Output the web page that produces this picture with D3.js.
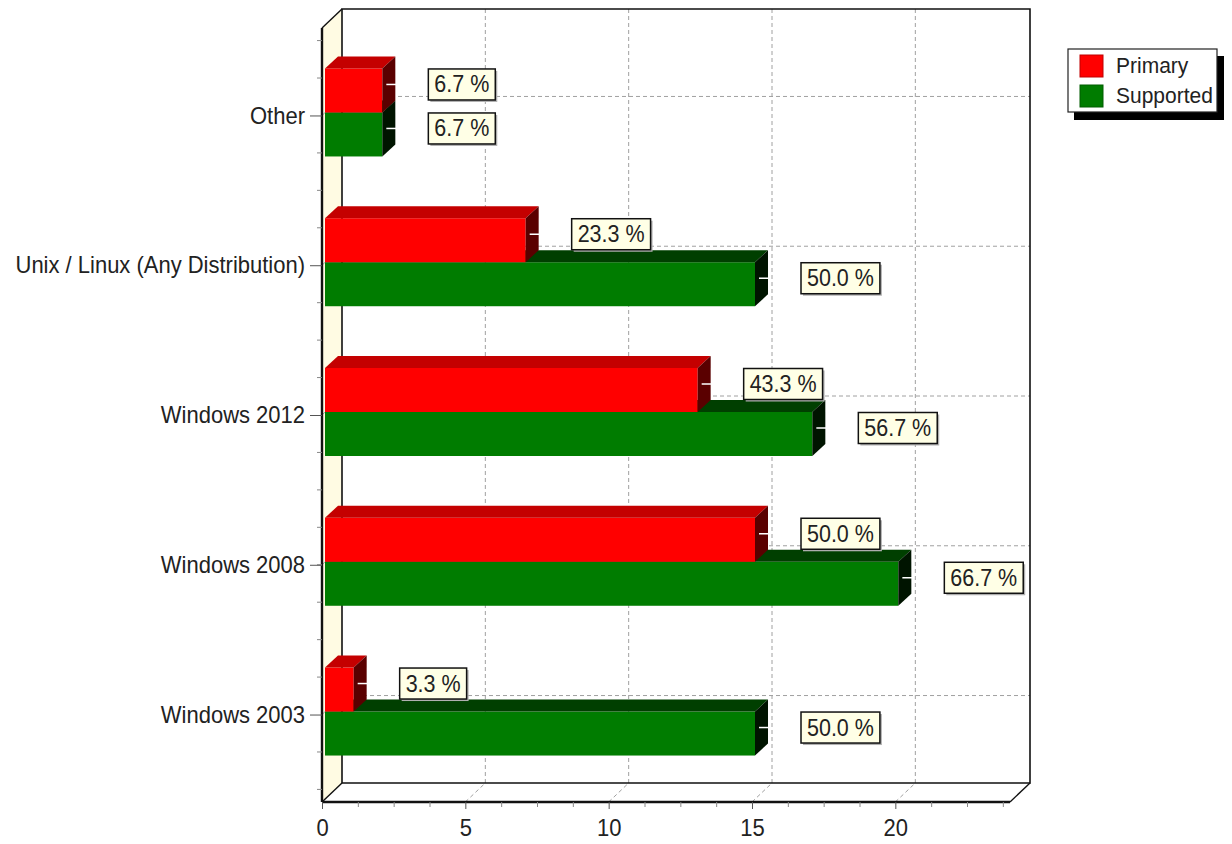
<!DOCTYPE html>
<html>
<head>
<meta charset="utf-8">
<script src="https://cdn.jsdelivr.net/npm/d3@7"></script>
<style>
  html, body { margin: 0; padding: 0; background: #fff; }
  svg { display: block; }
  text { font-family: "Liberation Sans", Arial, sans-serif; }
</style>
</head>
<body>
<svg id="chart" width="1232" height="844"></svg>
<script>
// Operating systems in use, counted per respondent (30 answers)
const categories = ["Other", "Unix / Linux (Any Distribution)", "Windows 2012", "Windows 2008", "Windows 2003"];
const seriesNames = ["Primary", "Supported"];
const primary = [2, 7, 13, 15, 1];
const supported = [2, 15, 17, 20, 15];
const respondents = 30;
const majorTicks = [0, 5, 10, 15, 20];

const svg = d3.select("#chart");
const fontSize = 22;
const textStretch = "scale(1,1.08)";

// Scales on the front plane of the 3D box
const x = d3.scaleLinear().domain([0, 24]).range([322, 1010]);
const y = d3.scalePoint().domain(categories).range([28, 802]).padding(0.584);

// Depth offsets: wall depth and bar depth
const wall = { dx: 20, dy: -19 };
const barOff = { dx: 3, dy: -3 };
const barDepth = { dx: 13, dy: -12 };
const barH = 44;

const plotTop = y.range()[0], plotBottom = y.range()[1];
const plotLeft = x(0), plotRight = x(24);

const colors = {
  Primary:   { front: "#ff0000", top: "#c40000", side: "#5a0000" },
  Supported: { front: "#007c00", top: "#003f00", side: "#001400" }
};

// Back wall
svg.append("rect")
  .attr("x", plotLeft + wall.dx).attr("y", plotTop + wall.dy)
  .attr("width", plotRight - plotLeft).attr("height", plotBottom - plotTop)
  .attr("fill", "#fff");

// Left wall (cream)
svg.append("polygon")
  .attr("points", [[plotLeft, plotTop], [plotLeft + wall.dx, plotTop + wall.dy], [plotLeft + wall.dx, plotBottom + wall.dy], [plotLeft, plotBottom]].join(" "))
  .attr("fill", "#fffbe3");

// Gridlines on the back wall, floor and left wall
const grid = svg.append("g")
  .attr("stroke", "#a0a0a0").attr("stroke-width", 1).attr("stroke-dasharray", "4 3").attr("fill", "none");
majorTicks.filter(v => v > 0).forEach(v => {
  grid.append("line")
    .attr("x1", x(v) + wall.dx).attr("x2", x(v) + wall.dx)
    .attr("y1", plotTop + wall.dy).attr("y2", plotBottom + wall.dy);
  grid.append("line")
    .attr("x1", x(v)).attr("x2", x(v) + wall.dx)
    .attr("y1", plotBottom).attr("y2", plotBottom + wall.dy);
});
categories.forEach(c => {
  grid.append("line")
    .attr("x1", plotLeft + wall.dx).attr("x2", plotRight + wall.dx)
    .attr("y1", y(c) + wall.dy).attr("y2", y(c) + wall.dy);
  grid.append("line")
    .attr("x1", plotLeft).attr("x2", plotLeft + wall.dx)
    .attr("y1", y(c)).attr("y2", y(c) + wall.dy);
});

// Box outline
const frame = svg.append("g").attr("fill", "none").attr("stroke", "#111");
frame.append("polyline")
  .attr("points", [[plotLeft + wall.dx, plotBottom + wall.dy], [plotLeft + wall.dx, plotTop + wall.dy], [plotRight + wall.dx, plotTop + wall.dy], [plotRight + wall.dx, plotBottom + wall.dy], [plotLeft + wall.dx, plotBottom + wall.dy]].join(" "))
  .attr("stroke-width", 1.6);
frame.append("line")
  .attr("x1", plotLeft).attr("y1", plotTop).attr("x2", plotLeft + wall.dx).attr("y2", plotTop + wall.dy)
  .attr("stroke-width", 1.4);
frame.append("line")
  .attr("x1", plotLeft).attr("y1", plotBottom).attr("x2", plotLeft + wall.dx).attr("y2", plotBottom + wall.dy)
  .attr("stroke-width", 1.4);
frame.append("line")
  .attr("x1", plotRight).attr("y1", plotBottom).attr("x2", plotRight + wall.dx).attr("y2", plotBottom + wall.dy)
  .attr("stroke-width", 1.4);

// Bars
const rows = categories.map((c, i) => ({ c, Primary: primary[i], Supported: supported[i] }));
const bars = svg.append("g");
const labels = [];

function drawBar(v, cy, name) {
  const col = colors[name];
  const x0 = x(0) + barOff.dx, x1 = x(v) + barOff.dx;
  const yTop = name === "Primary" ? cy + barOff.dy - barH : cy + barOff.dy;
  const yBot = yTop + barH;
  const g = bars.append("g");
  g.append("rect")
    .attr("x", x0).attr("y", yTop).attr("width", x1 - x0).attr("height", barH)
    .attr("fill", col.front);
  g.append("polygon")
    .attr("points", [[x0, yTop], [x1, yTop], [x1 + barDepth.dx, yTop + barDepth.dy], [x0 + barDepth.dx, yTop + barDepth.dy]].join(" "))
    .attr("fill", col.top);
  g.append("polygon")
    .attr("points", [[x1, yTop], [x1 + barDepth.dx, yTop + barDepth.dy], [x1 + barDepth.dx, yBot + barDepth.dy], [x1, yBot]].join(" "))
    .attr("fill", col.side);
  const ly = (yTop + yBot) / 2 + barDepth.dy / 2;
  g.append("line")
    .attr("x1", x1 + 4).attr("x2", x1 + barDepth.dx + 2)
    .attr("y1", ly).attr("y2", ly)
    .attr("stroke", "#fff").attr("stroke-width", 1.5);
  labels.push({ x: x1 + 46, y: ly, text: d3.format(".1f")(v / respondents * 100) + " %" });
}

rows.forEach(r => {
  drawBar(r.Supported, y(r.c), "Supported");
  drawBar(r.Primary, y(r.c), "Primary");
});

// Front axis lines
svg.append("line")
  .attr("x1", plotLeft).attr("x2", plotLeft).attr("y1", plotTop).attr("y2", plotBottom)
  .attr("stroke", "#111").attr("stroke-width", 2.4);
svg.append("line")
  .attr("x1", plotLeft).attr("x2", plotRight).attr("y1", plotBottom).attr("y2", plotBottom)
  .attr("stroke", "#111").attr("stroke-width", 2.4);

// Value axis ticks
const minorX = d3.range(0, 24.001, 1.25).filter(v => v % 5 !== 0);
const xMinor = svg.append("g")
  .attr("transform", `translate(0,${plotBottom})`)
  .call(d3.axisBottom(x).tickValues(minorX).tickSize(5).tickFormat(""));
xMinor.select(".domain").remove();
xMinor.selectAll("line").attr("stroke", "#888");
const xMajor = svg.append("g")
  .attr("transform", `translate(0,${plotBottom})`)
  .call(d3.axisBottom(x).tickValues(majorTicks).tickSize(7).tickPadding(9).tickFormat(d3.format("d")));
xMajor.select(".domain").remove();
xMajor.selectAll("line").attr("stroke", "#555");
xMajor.selectAll("text")
  .attr("font-size", fontSize).attr("fill", "#222").attr("transform", textStretch)
  .style("font-family", '"Liberation Sans", Arial, sans-serif');

// Category axis ticks
const step = y.step() / 4;
const minorY = d3.range(y(categories[0]) - 2 * step, plotBottom, step)
  .filter(p => p > plotTop + 2 && Math.abs(((p - y(categories[0])) / y.step()) % 1) > 0.01);
svg.append("g").selectAll("line").data(minorY).join("line")
  .attr("x1", plotLeft - 5).attr("x2", plotLeft).attr("y1", d => d).attr("y2", d => d)
  .attr("stroke", "#888");
const yAxis = svg.append("g")
  .attr("transform", `translate(${plotLeft},0)`)
  .call(d3.axisLeft(y).tickSize(12).tickPadding(5));
yAxis.select(".domain").remove();
yAxis.selectAll("line").attr("stroke", "#555");
yAxis.selectAll("text")
  .attr("font-size", fontSize).attr("fill", "#222").attr("transform", textStretch)
  .style("font-family", '"Liberation Sans", Arial, sans-serif');

// Value labels
const lg = svg.append("g");
labels.forEach(l => {
  const g = lg.append("g");
  const t = g.append("text")
    .attr("transform", `translate(${l.x + 6},${l.y + 8}) ${textStretch}`)
    .attr("font-size", fontSize - 0.5).attr("fill", "#222")
    .text(l.text);
  const w = t.node().getComputedTextLength() + 12;
  const h = 31;
  g.insert("rect", "text")
    .attr("x", l.x + 2).attr("y", l.y - h / 2 + 2).attr("width", w).attr("height", h)
    .attr("fill", "#b0b0b0");
  g.insert("rect", "text")
    .attr("x", l.x).attr("y", l.y - h / 2).attr("width", w).attr("height", h)
    .attr("fill", "#ffffe6").attr("stroke", "#111").attr("stroke-width", 1.5);
});

// Legend
const legend = svg.append("g");
legend.append("rect").attr("x", 1074).attr("y", 56).attr("width", 150).attr("height", 64).attr("fill", "#000");
legend.append("rect").attr("x", 1068).attr("y", 49).attr("width", 149).attr("height", 63)
  .attr("fill", "#fff").attr("stroke", "#222").attr("stroke-width", 1.2);
seriesNames.forEach((n, i) => {
  legend.append("rect")
    .attr("x", 1080).attr("y", 55 + i * 30).attr("width", 23).attr("height", 22)
    .attr("fill", colors[n].front).attr("stroke", d3.color(colors[n].front).darker(0.8)).attr("stroke-width", 1);
  legend.append("text")
    .attr("transform", `translate(1116,${73 + i * 30}) ${textStretch}`)
    .attr("font-size", 21).attr("fill", "#222")
    .text(n);
});
</script>
</body>
</html>
